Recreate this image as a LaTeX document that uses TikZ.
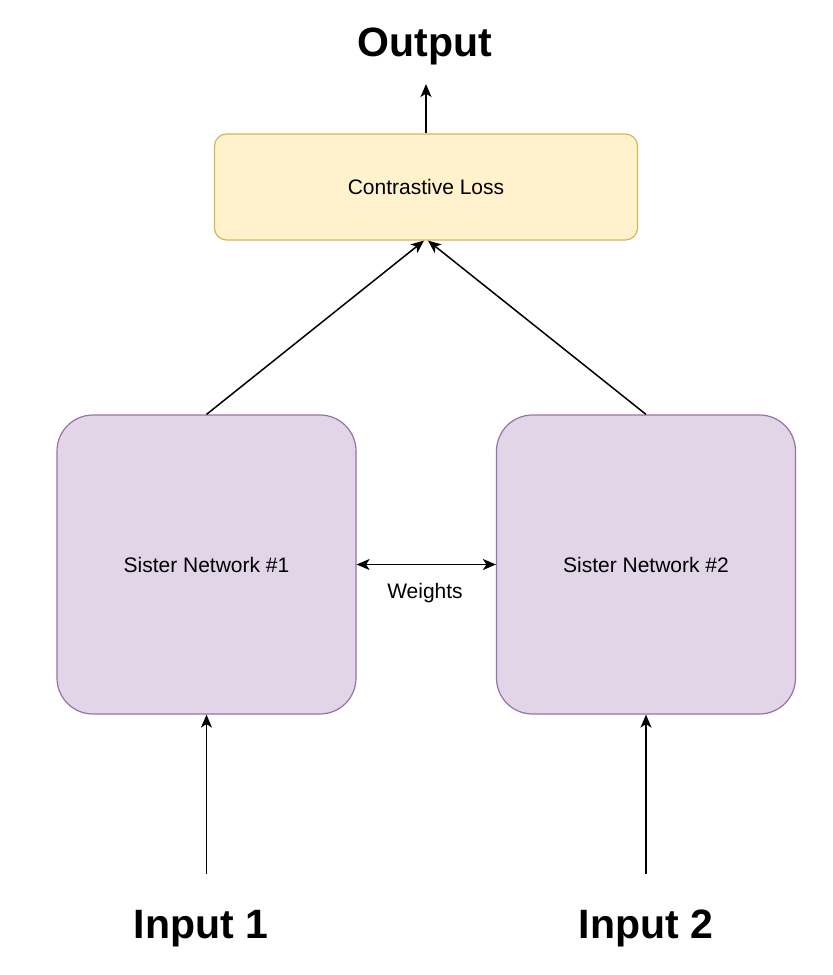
\documentclass[tikz,border=0pt]{standalone}
\usepackage{fontspec}
\setmainfont{Liberation Sans}
\usepackage{xcolor}
\usetikzlibrary{arrows.meta,positioning}

\definecolor{lossfill}{HTML}{FFF2CC}
\definecolor{lossline}{HTML}{D6B656}
\definecolor{netfill}{HTML}{E1D5E7}
\definecolor{netline}{HTML}{9673A6}

\begin{document}
\begin{tikzpicture}[x=1pt,y=-1pt,
  netbox/.style={draw=netline,fill=netfill,line width=1.2pt,rounded corners=36pt,
    minimum width=299pt,minimum height=299pt,font=\fontsize{21}{25}\selectfont},
  lossbox/.style={draw=lossline,fill=lossfill,line width=1.2pt,rounded corners=12pt,
    minimum width=423pt,minimum height=106pt,font=\fontsize{21}{25}\selectfont},
  bigtext/.style={font=\fontsize{41}{45}\selectfont\bfseries,anchor=base},
  arr/.style={-{Stealth[length=13pt,width=11pt,inset=3.5pt]},line width=1.5pt},
  dblarr/.style={{Stealth[length=13pt,width=11pt,inset=3.5pt]}-{Stealth[length=13pt,width=11pt,inset=3.5pt]},line width=1.5pt}]
\useasboundingbox (0,0) rectangle (833,975);

% Loss and output
\node[lossbox] (loss) at (426,187) {Contrastive Loss};
\node[bigtext] (out) at (425,56) {Output};

% Sister networks
\node[netbox] (sn1) at (206.5,564.5) {Sister Network \#1};
\node[netbox] (sn2) at (646,564.5) {Sister Network \#2};
\node[anchor=base,font=\fontsize{21}{25}\selectfont] (wts) at (425,598) {Weights};

% Inputs
\node[bigtext] (in1) at (201,938) {Input 1};
\node[bigtext] (in2) at (646,938) {Input 2};

% Connectors
\draw[arr,shorten >=16pt] (loss.north) -- (loss.north |- out.south);
\draw[arr] (sn1.north) -- ([xshift=-2pt]loss.south);
\draw[arr] (sn2.north) -- ([xshift=2pt]loss.south);
\draw[dblarr] (sn1.east) -- (sn2.west);
\draw[arr] ([yshift=32pt]in1.north -| sn1.south) -- (sn1.south);
\draw[arr] ([yshift=32pt]in2.north -| sn2.south) -- (sn2.south);
\end{tikzpicture}
\end{document}
